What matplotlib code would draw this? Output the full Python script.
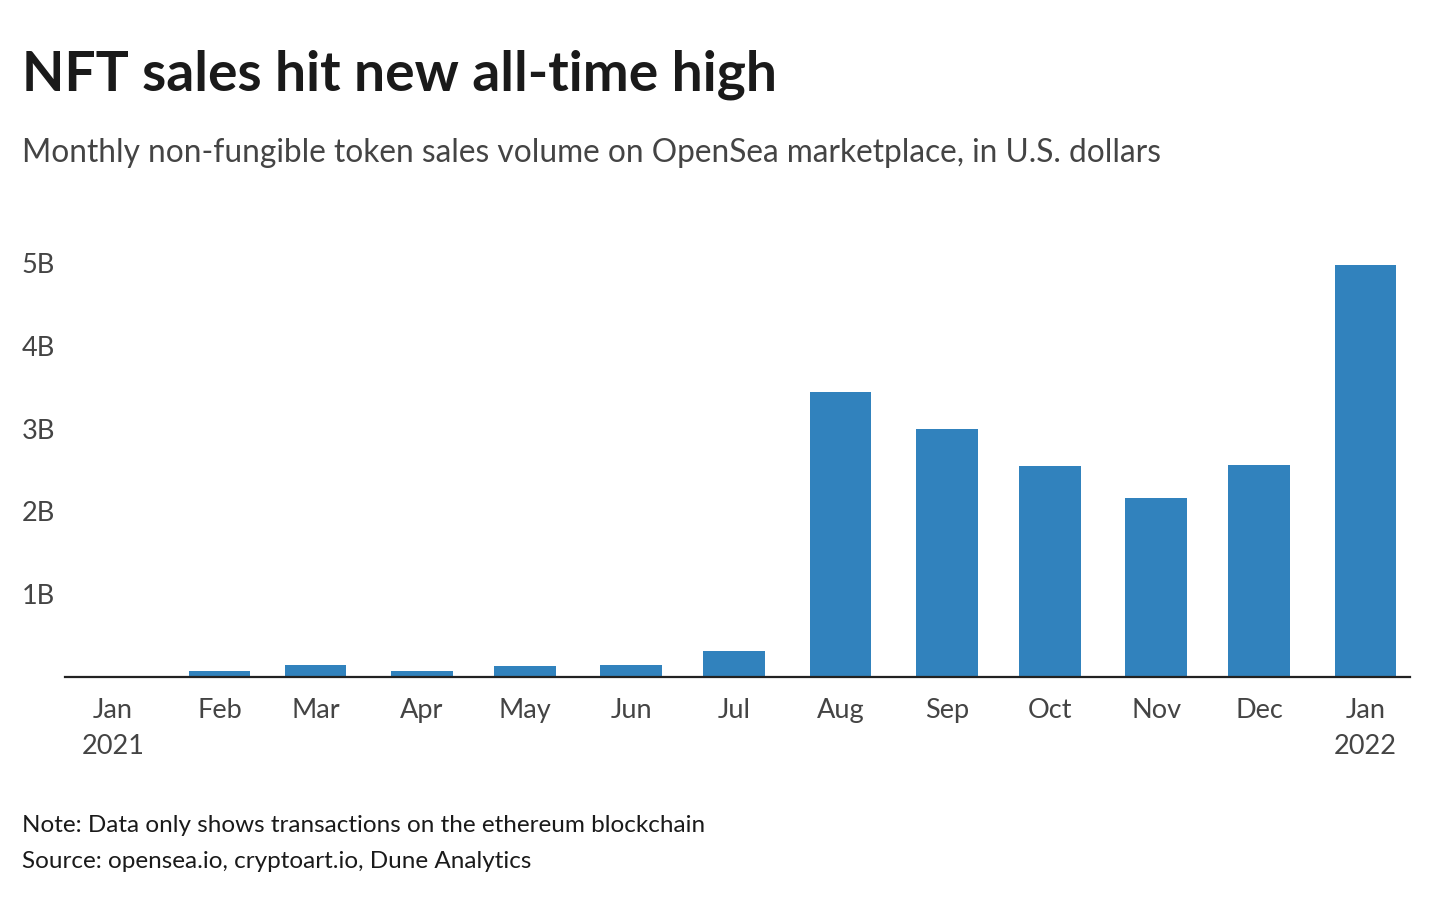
import matplotlib
matplotlib.use("Agg")
import matplotlib.pyplot as plt
import matplotlib.dates as mdates
from datetime import date

plt.rcParams['font.family'] = ['Lato', 'DejaVu Sans']

# monthly OpenSea sales volume, billions of USD
months = [date(2021, m, 1) for m in range(1, 13)] + [date(2022, 1, 1)]
volume_b = [0.008, 0.07, 0.14, 0.07, 0.13, 0.14, 0.32, 3.44, 3.0, 2.55, 2.16, 2.56, 4.98]
tick_labels = ["Jan\n2021", "Feb", "Mar", "Apr", "May", "Jun", "Jul",
               "Aug", "Sep", "Oct", "Nov", "Dec", "Jan\n2022"]
y_ticks = [1, 2, 3, 4, 5]

BLUE = "#3182bd"
DARK = "#1a1a1a"
GREY = "#444444"

fig = plt.figure(figsize=(14.32, 9.06), dpi=100)
ax = fig.add_axes([65 / 1432, 1 - 677 / 906, (1410 - 65) / 1432, (677 - 240) / 906])

x = mdates.date2num(months)
ax.bar(x, volume_b, width=18, color=BLUE, align="center", zorder=2)

ax.set_xlim(mdates.date2num(date(2020, 12, 18)), mdates.date2num(date(2022, 1, 14)))
ax.set_ylim(0, 5 * (677 - 240) / (677 - 263))

ax.set_xticks(x)
ax.set_xticklabels(tick_labels, fontsize=19.5, color=GREY, linespacing=1.55)
ax.tick_params(axis="x", length=0, pad=15)

ax.set_yticks(y_ticks)
ax.set_yticklabels([f"{v}B" for v in y_ticks], fontsize=19.5, color=GREY, ha="left")
ax.tick_params(axis="y", length=0, pad=31)

for side in ["top", "right", "left"]:
    ax.spines[side].set_visible(False)
ax.spines["bottom"].set_color("#222222")
ax.spines["bottom"].set_linewidth(1.6)
ax.spines["bottom"].set_zorder(3)

fig.text(22 / 1432, 1 - 75 / 906, "NFT sales hit new all-time high",
         fontsize=39.7, fontweight="bold", color=DARK, va="center", ha="left")
fig.text(22 / 1432, 1 - 153 / 906,
         "Monthly non-fungible token sales volume on OpenSea marketplace, in U.S. dollars",
         fontsize=22.8, color=GREY, va="center", ha="left")
fig.text(22 / 1432, 1 - 826 / 906, "Note: Data only shows transactions on the ethereum blockchain",
         fontsize=17.5, color=DARK, va="center", ha="left")
fig.text(22 / 1432, 1 - 862 / 906, "Source: opensea.io, cryptoart.io, Dune Analytics",
         fontsize=17.5, color=DARK, va="center", ha="left")

fig.savefig("out.png", dpi=100, facecolor="white")
